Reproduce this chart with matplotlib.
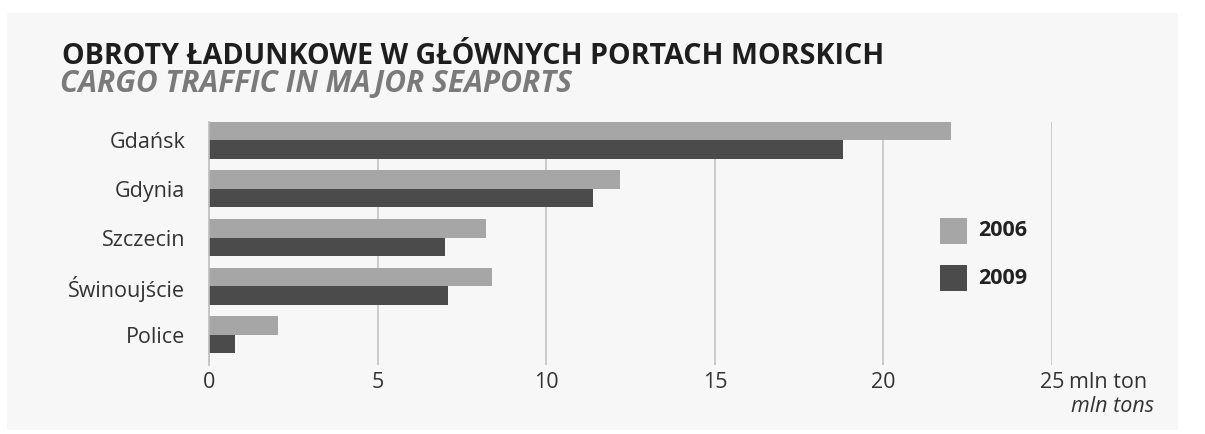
import numpy as np
import matplotlib.pyplot as plt
from matplotlib.patches import Rectangle
import matplotlib.transforms as mtransforms

# data (mln ton)
ports = ["Gdańsk", "Gdynia", "Szczecin", "Świnoujście", "Police"]
cargo_2006 = [22.0, 12.2, 8.2, 8.4, 2.05]
cargo_2009 = [18.8, 11.4, 7.0, 7.1, 0.78]
years = ["2006", "2009"]
x_ticks = [0, 5, 10, 15, 20, 25]

c2006 = "#a6a6a6"
c2009 = "#4b4b4b"
font = "Open Sans"
fs = 15.5

W, H = 1205, 434
fig = plt.figure(figsize=(W / 100, H / 100), dpi=100, facecolor="white")

# light panel behind everything
fig.patches.append(Rectangle((7 / W, 1 - 430 / H), (1178 - 7) / W, (430 - 13) / H,
                             transform=fig.transFigure, facecolor="#f7f7f7",
                             edgecolor="none", zorder=-5))

# title block
fig.text(62 / W, 1 - 64 / H, "OBROTY ŁADUNKOWE W GŁÓWNYCH PORTACH MORSKICH",
         family=font, weight="bold", fontsize=20.6, color="#1e1e1e", va="baseline")
fig.text(60 / W, 1 - 92 / H, "CARGO TRAFFIC IN MAJOR SEAPORTS",
         family=font, weight="bold", style="italic", fontsize=21.5, color="#7a7a7a",
         va="baseline")

ax = fig.add_axes([209 / W, (H - 365) / H, (1052 - 209) / W, (365 - 121.7) / H])
ax.set_facecolor("none")
ax.set_zorder(1)

y = np.arange(len(ports))
h = 0.38
ax.barh(y - h / 2, cargo_2006, height=h, color=c2006, zorder=2)
ax.barh(y + h / 2, cargo_2009, height=h, color=c2009, zorder=2)

ax.set_xlim(0, 25)
ax.set_ylim(len(ports) - 1 + h + 0.24, -h)

for t in x_ticks[1:]:
    ax.axvline(t, color="#c4c4c4", lw=1.2, zorder=1)

for s in ["top", "right", "bottom"]:
    ax.spines[s].set_visible(False)
ax.spines["left"].set_color("#bdbdbd")
ax.spines["left"].set_linewidth(1.2)

ax.set_yticks(y)
ax.set_yticklabels(ports, family=font, fontsize=fs, color="#333333")
ax.tick_params(axis="y", length=0, pad=17)

ax.set_xticks(x_ticks)
ax.set_xticklabels([str(t) for t in x_ticks], family=font, fontsize=fs, color="#333333")
ax.tick_params(axis="x", length=0, pad=5)

# unit labels next to the last tick
trans = mtransforms.blended_transform_factory(ax.transData, fig.transFigure)
ax.text(25.5, 1 - 383 / H, "mln ton", transform=trans, family=font, fontsize=fs,
        color="#333333", va="center", ha="left")
fig.text(1154 / W, 1 - 407 / H, "mln tons", family=font, fontsize=fs, style="italic",
         color="#333333", va="center", ha="right")

# legend drawn by hand
for i, (lab, col) in enumerate(zip(years, [c2006, c2009])):
    yc = 231 + i * 47
    fig.patches.append(Rectangle((940 / W, 1 - (yc + 13) / H), 27 / W, 26 / H,
                                 transform=fig.transFigure, facecolor=col,
                                 edgecolor="none", zorder=3))
    fig.text(978 / W, 1 - yc / H, lab, family=font, weight="bold", fontsize=fs,
             color="#222222", va="center", ha="left")

fig.savefig("out.png", dpi=100, facecolor="white")
